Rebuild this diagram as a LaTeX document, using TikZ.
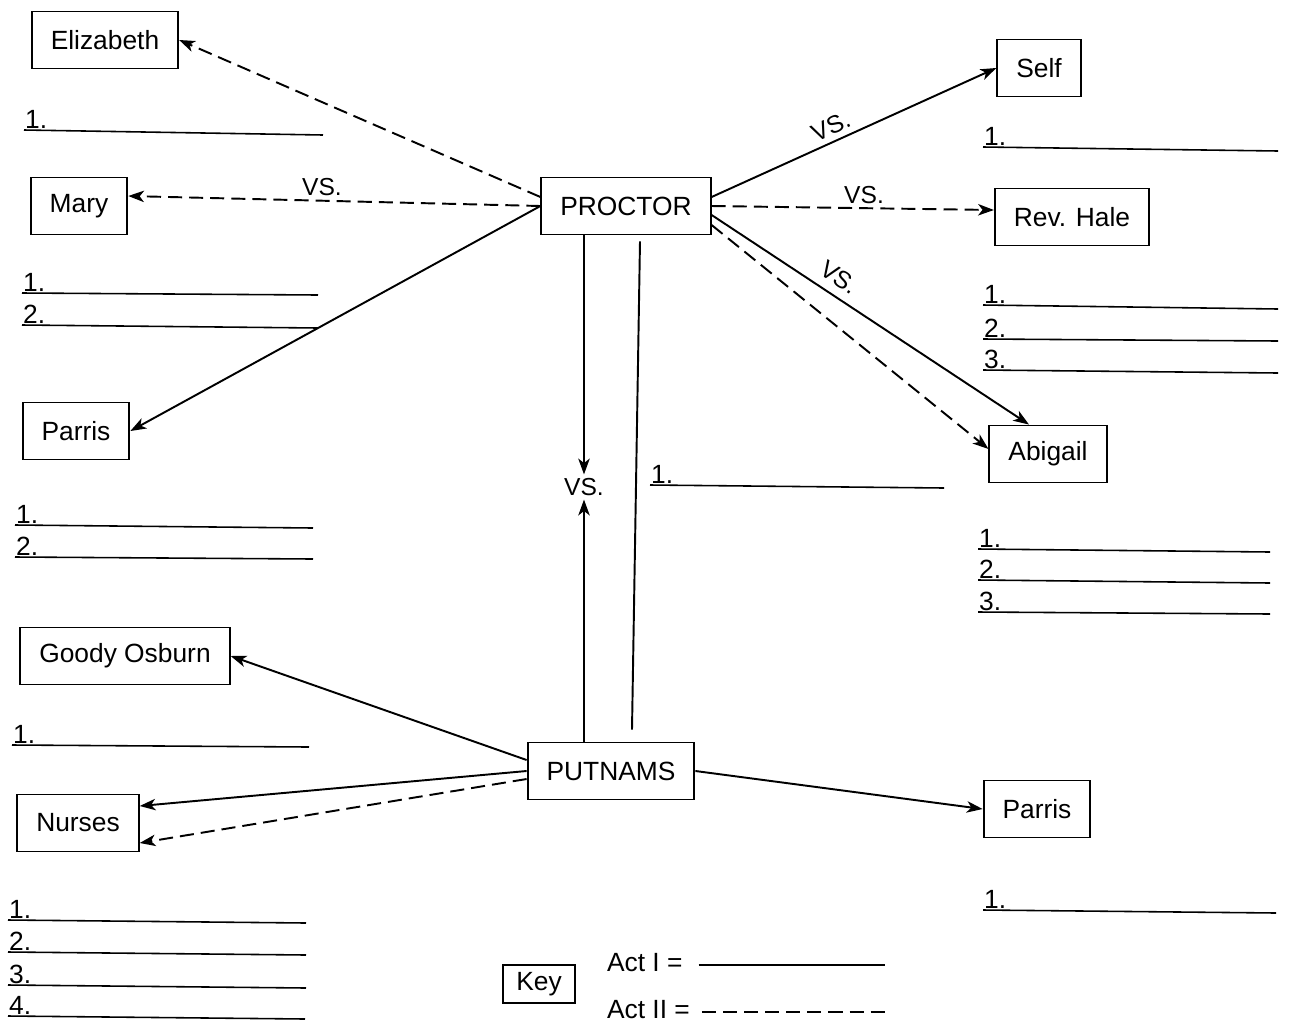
\documentclass[tikz,border=0pt]{standalone}
\usepackage{fontspec}
\setmainfont{Liberation Sans}
\usepackage{tikz}
\usetikzlibrary{arrows.meta}

\begin{document}
\begin{tikzpicture}[x=0.02cm, y=-0.02cm, >={Stealth[length=9pt,width=6.5pt,inset=2.5pt]},
		box_style/.style={draw=black,line width=1.1pt,minimum height=1.14cm,inner xsep=0.38cm,font=\fontsize{15}{18}\selectfont},
		num_style/.style={anchor=south west,inner sep=0.5pt,font=\fontsize{15}{17}\selectfont},
		vs_style/.style={inner sep=2pt,font=\fontsize{14}{16}\selectfont},
		act1_style/.style={draw=black,line width=1.1pt},
		act2_style/.style={draw=black,line width=1.1pt,dash pattern=on 8pt off 4pt},
		blank_style/.style={draw=black,line width=0.9pt}]

		\useasboundingbox (0,0) rectangle (1289,1022);

		% boxes
		\node[box_style] (proctor) at (626,206) {PROCTOR};
		\node[box_style] (putnams) at (611,771) {PUTNAMS};
		\node[box_style] (elizabeth) at (105,40) {Elizabeth};
		\node[box_style] (mary) at (79,206) {Mary};
		\node[box_style] (parrisL) at (76,431) {Parris};
		\node[box_style] (goody) at (125,656) {Goody Osburn};
		\node[box_style] (nurses) at (78,823) {Nurses};
		\node[box_style] (self) at (1039,68) {Self};
		\node[box_style] (hale) at (1072,217) {Rev. Hale};
		\node[box_style] (abigail) at (1048,454) {Abigail};
		\node[box_style] (parrisR) at (1037,809) {Parris};
		\node[vs_style] (vs) at (584,487) {VS.};

		% Proctor
		\draw[act2_style,->] ([yshift=0.18cm]proctor.west) -- (elizabeth.east);
		\draw[act2_style,->] (proctor.west) -- node[pos=0.53,above,vs_style]{VS.} ([yshift=0.2cm]mary.east);
		\draw[act1_style,->] (proctor.west) -- (parrisL.east);
		\draw[act1_style,->] ([yshift=0.18cm]proctor.east) -- node[pos=0.44,above=1pt,sloped,vs_style]{VS.} (self.west);
		\draw[act2_style,->] (proctor.east) -- node[pos=0.54,above,vs_style]{VS.} ([yshift=0.14cm]hale.west);
		\draw[act1_style,->] ([yshift=-0.18cm]proctor.east) -- node[pos=0.37,above=3pt,sloped,vs_style]{VS.} ([xshift=-0.38cm]abigail.north);
		\draw[act2_style,->] ([yshift=-0.38cm]proctor.east) -- ([yshift=0.1cm]abigail.west);
		\draw[act1_style,->] (proctor.south -| vs) -- (vs.north);
		\draw[act1_style] ([xshift=0.28cm,yshift=-0.12cm]proctor.south) -- ([xshift=0.42cm,yshift=0.24cm]putnams.north);

		% Putnams
		\draw[act1_style,->] (putnams.north -| vs) -- (vs.south);
		\draw[act1_style,->] ([yshift=0.22cm]putnams.west) -- (goody.east);
		\draw[act1_style,->] (putnams.west) -- ([yshift=0.34cm]nurses.east);
		\draw[act2_style,->] ([yshift=-0.16cm]putnams.west) -- ([yshift=-0.4cm]nurses.east);
		\draw[act1_style,->] (putnams.east) -- (parrisR.west);

		% blanks
		\node[num_style] (eliz1) at (24,130) {1.};
		\draw[blank_style] (eliz1.south west) -- ++(299,5);
		\node[num_style] (mary1) at (22,293) {1.};
		\draw[blank_style] (mary1.south west) -- ++(296,2);
		\node[num_style] (mary2) at (22,325) {2.};
		\draw[blank_style] (mary2.south west) -- ++(296,3);
		\node[num_style] (parrisL1) at (15,525) {1.};
		\draw[blank_style] (parrisL1.south west) -- ++(298,3);
		\node[num_style] (parrisL2) at (15,557) {2.};
		\draw[blank_style] (parrisL2.south west) -- ++(298,2);
		\node[num_style] (goody1) at (12,745) {1.};
		\draw[blank_style] (goody1.south west) -- ++(297,2);
		\node[num_style] (nurses1) at (8,920) {1.};
		\draw[blank_style] (nurses1.south west) -- ++(298,3);
		\node[num_style] (nurses2) at (8,952) {2.};
		\draw[blank_style] (nurses2.south west) -- ++(298,3);
		\node[num_style] (nurses3) at (8,985) {3.};
		\draw[blank_style] (nurses3.south west) -- ++(298,3);
		\node[num_style] (nurses4) at (8,1016) {4.};
		\draw[blank_style] (nurses4.south west) -- ++(297,3);
		\node[num_style] (self1) at (983,147) {1.};
		\draw[blank_style] (self1.south west) -- ++(295,4);
		\node[num_style] (hale1) at (983,305) {1.};
		\draw[blank_style] (hale1.south west) -- ++(295,4);
		\node[num_style] (hale2) at (983,339) {2.};
		\draw[blank_style] (hale2.south west) -- ++(295,2);
		\node[num_style] (hale3) at (983,370) {3.};
		\draw[blank_style] (hale3.south west) -- ++(295,3);
		\node[num_style] (abig1) at (978,549) {1.};
		\draw[blank_style] (abig1.south west) -- ++(292,3);
		\node[num_style] (abig2) at (978,580) {2.};
		\draw[blank_style] (abig2.south west) -- ++(292,3);
		\node[num_style] (abig3) at (978,612) {3.};
		\draw[blank_style] (abig3.south west) -- ++(292,2);
		\node[num_style] (parrisR1) at (983,910) {1.};
		\draw[blank_style] (parrisR1.south west) -- ++(293,3);
		\node[num_style] (mid1) at (650,485) {1.};
		\draw[blank_style] (mid1.south west) -- ++(294,3);

		% key
		\node[draw=black,line width=1.1pt,minimum width=1.44cm,minimum height=0.76cm,inner sep=2pt,font=\fontsize{15}{17}\selectfont] (key) at (539,984) {Key};
		\node[font=\fontsize{15}{18}\selectfont,anchor=west,inner sep=1pt] (act1) at (605,963) {Act I =};
		\draw[act1_style] (act1.east) ++(14,2) -- ++(186,0);
		\node[font=\fontsize{15}{18}\selectfont,anchor=west,inner sep=1pt] (act2) at (605,1010) {Act II =};
		\draw[act2_style] (act2.east) ++(10,2) -- ++(184,0);

	\end{tikzpicture}
\end{document}
